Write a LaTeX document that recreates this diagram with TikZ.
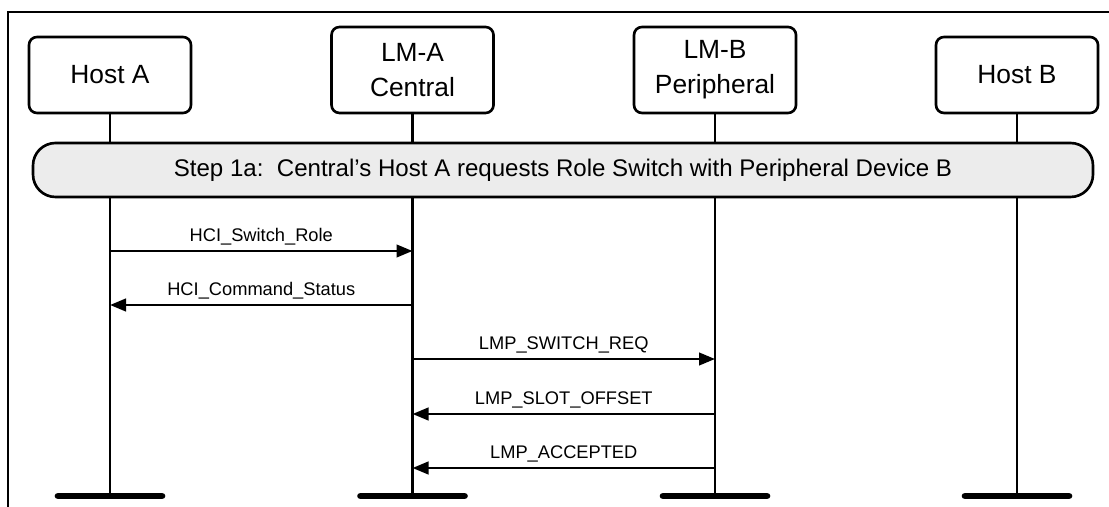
\documentclass[tikz,border=0pt]{standalone}
\usepackage{fontspec}
\setmainfont{Liberation Sans}
\usetikzlibrary{arrows.meta, positioning}
\definecolor{stepgray}{RGB}{236,236,236}

\begin{document}
\begin{tikzpicture}[>={Triangle[length=0.32cm, width=0.25cm]}, line width=1.5pt,
    entity/.style={draw, rounded corners=0.16cm, minimum width=3.24cm, inner sep=0pt, align=center, font=\fontsize{15}{20}\selectfont},
    msg/.style={->},
    lbl/.style={above, inner sep=2.5pt, font=\fontsize{10.4}{12}\selectfont},
    endbar/.style={line width=3.8pt, line cap=round}]
    \useasboundingbox (0,0) rectangle (22.18,-10.14);
    % frame
    \draw (22.18,-0.24) -- (0.16,-0.24) -- (0.16,-10.14);
    % entities
    \node[entity, minimum height=1.52cm] (hostA) at (2.2,-1.5) {Host A};
    \node[entity, minimum height=1.72cm] (lmA) at (8.25,-1.4) {LM-A\\Central};
    \node[entity, minimum height=1.72cm] (lmB) at (14.3,-1.4) {LM-B\\Peripheral};
    \node[entity, minimum height=1.52cm] (hostB) at (20.34,-1.5) {Host B};
    % lifelines
    \foreach \n in {hostA, lmA, lmB, hostB} {
      \coordinate (\n-end) at (\n.south |- 0,-9.92);
      \draw (\n.south) -- (\n-end);
      \draw[endbar] ([xshift=-1.04cm]\n-end) -- ([xshift=1.04cm]\n-end);
    }
    % step
    \node[draw, fill=stepgray, rounded corners=0.45cm, minimum width=21.2cm, minimum height=1.08cm, font=\fontsize{13.7}{16}\selectfont] (step) at (11.26,-3.4) {Step 1a:\ \ Central’s Host A requests Role Switch with Peripheral Device B};
    % messages
    \coordinate (m1) at (0,-5.02);
    \coordinate (m2) at (0,-6.10);
    \coordinate (m3) at (0,-7.18);
    \coordinate (m4) at (0,-8.28);
    \coordinate (m5) at (0,-9.36);
    \draw[msg] (hostA |- m1) -- node[lbl] {HCI\_Switch\_Role} (lmA |- m1);
    \draw[msg] (lmA |- m2) -- node[lbl] {HCI\_Command\_Status} (hostA |- m2);
    \draw[msg] (lmA |- m3) -- node[lbl] {LMP\_SWITCH\_REQ} (lmB |- m3);
    \draw[msg] (lmB |- m4) -- node[lbl] {LMP\_SLOT\_OFFSET} (lmA |- m4);
    \draw[msg] (lmB |- m5) -- node[lbl] {LMP\_ACCEPTED} (lmA |- m5);
\end{tikzpicture}
\end{document}
